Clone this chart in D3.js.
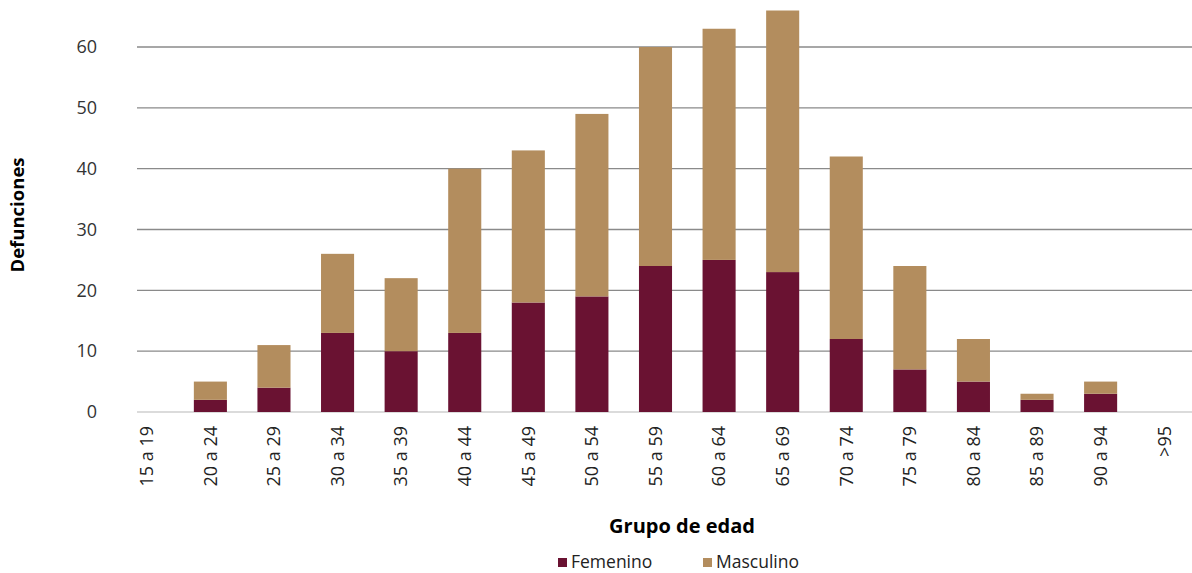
<!DOCTYPE html>
<html>
<head>
<meta charset="utf-8">
<script src="https://cdn.jsdelivr.net/npm/d3@7"></script>
<style>
  body { margin: 0; background: #fff; }
  svg { display: block; font-family: "Open Sans", sans-serif; }
</style>
</head>
<body>
<svg id="chart"></svg>
<script>
var ageGroups = ["15 a 19", "20 a 24", "25 a 29", "30 a 34", "35 a 39", "40 a 44",
  "45 a 49", "50 a 54", "55 a 59", "60 a 64", "65 a 69", "70 a 74", "75 a 79",
  "80 a 84", "85 a 89", "90 a 94", ">95"];
var femenino = [0, 2, 4, 13, 10, 13, 18, 19, 24, 25, 23, 12, 7, 5, 2, 3, 0];
var masculino = [0, 3, 7, 13, 12, 27, 25, 30, 36, 38, 43, 30, 17, 7, 1, 2, 0];
var yTicks = [0, 10, 20, 30, 40, 50, 60];
var seriesNames = ["Femenino", "Masculino"];
var seriesColors = ["#6a1232", "#b38d5e"];

/**
 * Draws the stacked bar chart of deaths by age group.
 */
function drawChart() {
  var width = 1192;
  var height = 573;
  var svg = d3.select("#chart")
    .attr("width", width)
    .attr("height", height);

  var rows = ageGroups.map(function(g, i) {
    return { group: g, Femenino: femenino[i], Masculino: masculino[i] };
  });
  var stacked = d3.stack().keys(seriesNames)(rows);

  var xScale = d3.scaleBand()
    .domain(ageGroups)
    .range([115, 1196])
    .paddingInner(0.48)
    .paddingOuter(0.24);

  var yScale = d3.scaleLinear()
    .domain([0, 60])
    .range([412, 47]);

  // gridlines
  svg.append("g")
    .selectAll("line")
    .data(yTicks)
    .enter().append("line")
    .attr("x1", 137)
    .attr("x2", width)
    .attr("y1", function(d) { return yScale(d); })
    .attr("y2", function(d) { return yScale(d); })
    .attr("stroke", function(d) { return d == 0 ? "#cfcfcf" : "#8a8a8a"; })
    .attr("stroke-width", 1.4);

  // y axis labels
  var yAxis = svg.append("g")
    .attr("transform", "translate(97,0)")
    .call(d3.axisLeft(yScale).tickValues(yTicks).tickSize(0).tickPadding(0));
  yAxis.select(".domain").remove();
  yAxis.attr("font-family", null);
  yAxis.selectAll("text")
    .style("font-size", "18px")
    .attr("fill", "#333");

  // bars
  svg.append("g")
    .selectAll("g")
    .data(stacked)
    .enter().append("g")
    .attr("fill", function(d, i) { return seriesColors[i]; })
    .selectAll("rect")
    .data(function(d) { return d; })
    .enter().append("rect")
    .attr("x", function(d) { return xScale(d.data.group); })
    .attr("y", function(d) { return yScale(d[1]); })
    .attr("width", xScale.bandwidth())
    .attr("height", function(d) { return yScale(d[0]) - yScale(d[1]); });

  // x axis labels
  var xAxis = svg.append("g")
    .attr("transform", "translate(0,413)")
    .call(d3.axisBottom(xScale).tickSize(0).tickPadding(0));
  xAxis.select(".domain").remove();
  xAxis.attr("font-family", null);
  xAxis.selectAll("text")
    .style("text-anchor", "end")
    .style("font-size", "18px")
    .attr("fill", "#222")
    .attr("dx", "-13px")
    .attr("dy", "0.35em")
    .attr("y", 0)
    .attr("transform", "rotate(-90)");

  svg.append("text")
    .attr("transform", "translate(24,215) rotate(-90)")
    .style("text-anchor", "middle")
    .style("font-size", "18.5px")
    .style("font-weight", "bold")
    .text("Defunciones");

  svg.append("text")
    .attr("x", 682)
    .attr("y", 533)
    .style("text-anchor", "middle")
    .style("font-size", "20px")
    .style("font-weight", "bold")
    .text("Grupo de edad");

  drawLegend(svg);
}

/**
 * Draws the legend below the axis title.
 *
 * @param {Object} svg - the svg reference
 */
function drawLegend(svg) {
  var positions = [558, 703];
  var legend = svg.append("g")
    .selectAll("g")
    .data(seriesNames)
    .enter().append("g")
    .attr("transform", function(d, i) { return "translate(" + positions[i] + ",558)"; });

  legend.append("rect")
    .attr("width", 9)
    .attr("height", 9)
    .attr("fill", function(d, i) { return seriesColors[i]; });

  legend.append("text")
    .attr("x", 13)
    .attr("y", 10)
    .style("font-size", "17.5px")
    .attr("fill", "#222")
    .text(function(d) { return d; });
}

drawChart();
</script>
</body>
</html>
